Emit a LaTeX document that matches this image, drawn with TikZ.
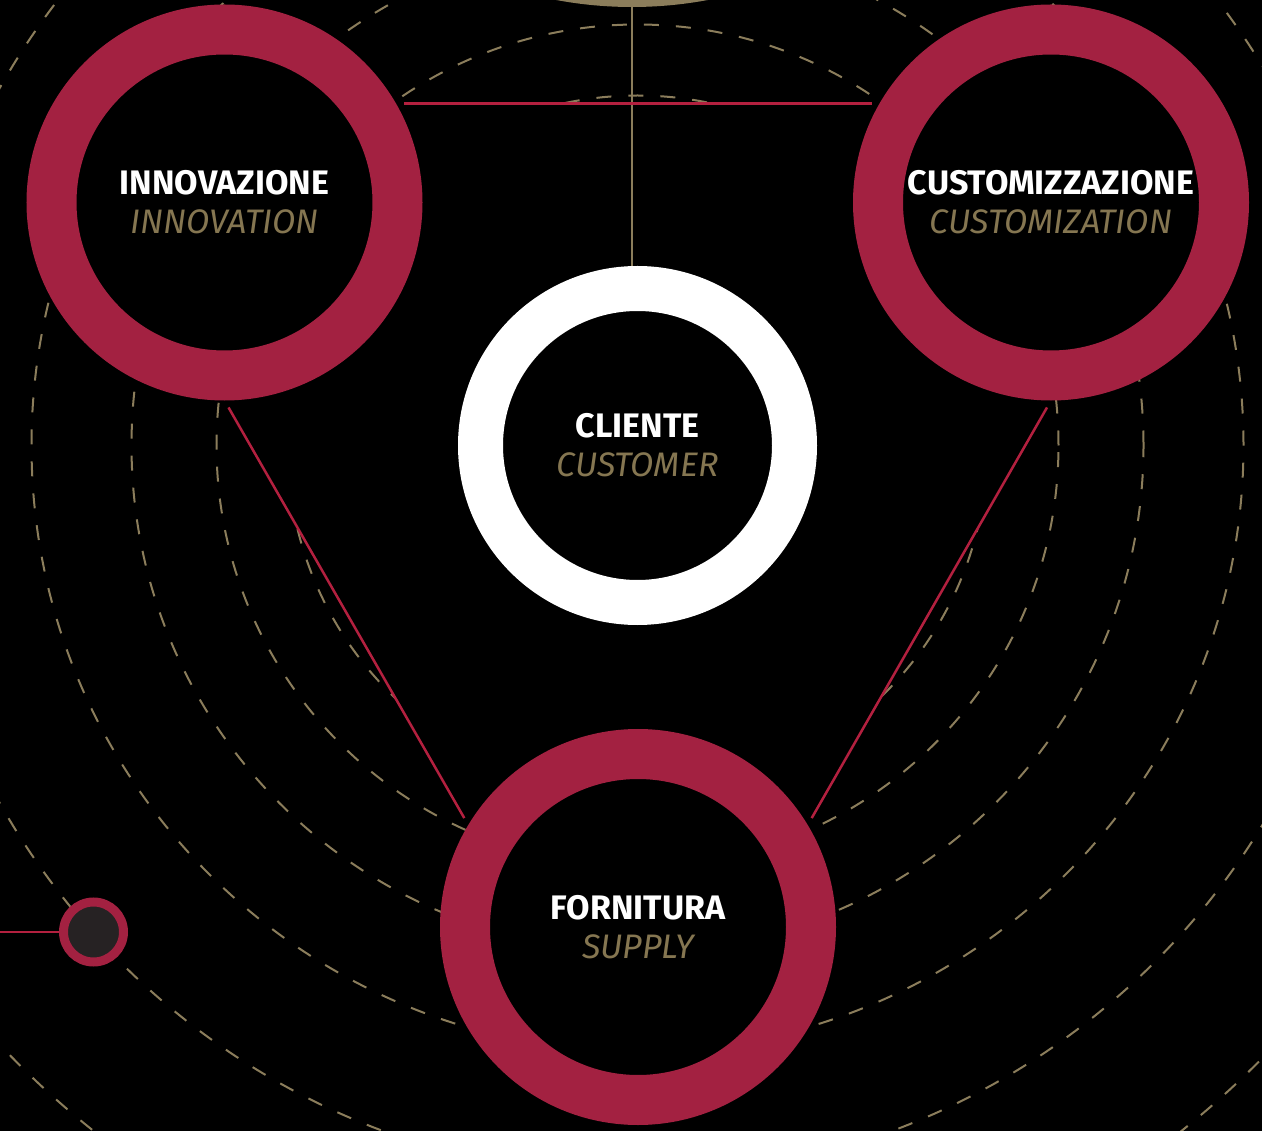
\documentclass[tikz,border=0pt]{standalone}
\usepackage{fontspec}
\setmainfont{Fira Sans}
\usepackage{tikz}

\definecolor{ringred}{HTML}{A32141}
\definecolor{linered}{HTML}{B3203F}
\definecolor{tanline}{HTML}{8B7D5B}
\definecolor{tantext}{HTML}{857651}
\definecolor{dotfill}{HTML}{262223}

\pgfdeclarelayer{orbits}
\pgfdeclarelayer{blackout}
\pgfsetlayers{orbits,blackout,main}

\newcommand{\twolabel}[2]{{\bfseries #1}\\{\color{tantext}\itshape #2}}

\tikzset{
  orbit/.style={draw=tanline, line width=2pt, dash pattern=on 15pt off 17pt},
  bigring/.style={circle, draw=ringred, fill=black, line width=50pt, minimum size=346pt, inner sep=0pt, align=center, text=white, font=\fontsize{34}{39}\selectfont},
  hubring/.style={circle, draw=white, fill=black, line width=45pt, minimum size=314pt, inner sep=0pt, align=center, text=white, font=\fontsize{34}{39}\selectfont},
  link/.style={draw=linered, line width=2.5pt, shorten >=8pt, shorten <=8pt},
}

\begin{document}
\begin{tikzpicture}[x=1pt, y=-1pt]
\useasboundingbox (0,0) rectangle (1262,1131);
\coordinate (hub) at (637.5,445.5);

% the four rings
\node[hubring] (cliente) at (hub) {\twolabel{CLIENTE}{CUSTOMER}};
\node[bigring] (innov) at (224.5,202.5) {\twolabel{INNOVAZIONE}{INNOVATION}};
\node[bigring] (custom) at (1051,202.5) {\twolabel{CUSTOMIZZAZIONE}{CUSTOMIZATION}};
\node[bigring] (forn) at (638,927) {\twolabel{FORNITURA}{SUPPLY}};

% disc at the top and the line down to the customer
\node[circle, fill=tanline, minimum size=820pt, inner sep=0pt] (topdisc) at (632,-403) {};
\draw[tanline, line width=2pt] (topdisc.south) -- (topdisc.south |- cliente.north);

% red links
\draw[link] (innov.30) -- (custom.150);
\draw[link] (innov.-90) -- (forn.149);
\draw[link] (custom.-90) -- (forn.31);

% small dot on the left
\node[circle, draw=ringred, fill=dotfill, line width=9pt, minimum size=60pt, inner sep=0pt] (dot) at (93.5,932) {};
\coordinate (edge) at (0,932);
\draw[linered, line width=2pt] (edge) -- (dot);

\begin{pgfonlayer}{blackout}
\fill[black] (innov.30) -- (custom.150) -- (custom.-90) -- (forn.31) -- (forn.149) -- (innov.-90) -- cycle;
\end{pgfonlayer}

\begin{pgfonlayer}{orbits}
\fill[black] (0,0) rectangle (1262,1131);
\clip (0,0) rectangle (1262,1131);
\foreach \r in {350,421,506,606,731,875}
  \draw[orbit] (hub) circle (\r pt);
\end{pgfonlayer}
\end{tikzpicture}
\end{document}
